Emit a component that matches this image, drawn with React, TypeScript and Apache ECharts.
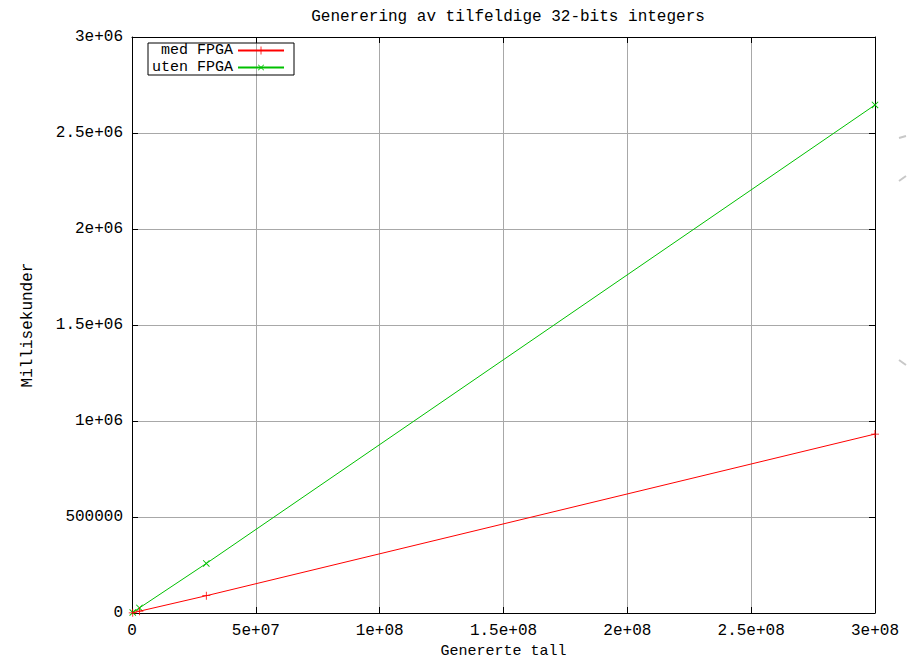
import React, { useEffect, useRef } from "react";
import * as echarts from "echarts";

const titleText = "Generering av tilfeldige 32-bits integers";
const xName = "Genererte tall";
const yName = "Millisekunder";
const seriesNames = ["med FPGA", "uten FPGA"];
const countValues = [300000, 3000000, 30000000, 300000000];
const medFpga = [900, 9300, 90000, 932000];
const utenFpga = [2650, 26500, 258000, 2646000];
const xMin = 0, xMax = 300000000, xStep = 50000000;
const yMin = 0, yMax = 3000000, yStep = 500000;

function gfmt(v: number): string {
  if (v === 0) return "0";
  const e = Math.floor(Math.log10(Math.abs(v)) + 1e-9);
  if (e < 6 && e >= -4) return String(v);
  const m = Math.round((v / Math.pow(10, e)) * 1e5) / 1e5;
  const sign = e < 0 ? "-" : "+";
  const ea = Math.abs(e);
  return `${m}e${sign}${ea < 10 ? "0" + ea : ea}`;
}

const FONT = "Liberation Mono";
const PLUS = "path://M4.5,0H5.5V10H4.5Z M0,4.5H10V5.5H0Z";

export default function App() {
  const ref = useRef<HTMLDivElement>(null);
  useEffect(() => {
    const chart = echarts.init(ref.current!, null, { renderer: "svg" });
    const txt = { fontFamily: FONT, fontSize: 16, color: "#000" };
    const axisCommon = {
      type: "value" as const,
      axisLine: { show: true, onZero: false, lineStyle: { color: "#000", width: 1 } },
      axisTick: { show: true, inside: true, length: 6, lineStyle: { color: "#000" } },
    };
    chart.setOption({
      animation: false,
      backgroundColor: "#fff",
      title: {
        text: titleText,
        left: 503,
        textAlign: "center",
        top: 4,
        textStyle: { ...txt, fontWeight: "normal" },
      },
      grid: { left: 132, right: 41, top: 37, bottom: 46, containLabel: false, outerBoundsMode: "none" },
      legend: {
        orient: "vertical",
        left: 148,
        top: 43,
        align: "right",
        padding: [0, 9, 0, 4],
        itemGap: 2,
        itemWidth: 46,
        itemHeight: 10,
        borderColor: "#000",
        borderWidth: 1,
        borderRadius: 0,
        formatter: (n: string) => (n.length < 9 ? " ".repeat(9 - n.length) + n : n),
        textStyle: { ...txt, fontSize: 15, lineHeight: 15 },
        data: seriesNames,
      },
      xAxis: [
        {
          ...axisCommon,
          position: "bottom",
          min: xMin,
          max: xMax,
          interval: xStep,
          name: xName,
          nameLocation: "middle",
          nameGap: 28,
          nameTextStyle: { ...txt, fontSize: 15 },
          axisLabel: { ...txt, margin: 10, formatter: gfmt },
          splitLine: { show: true, lineStyle: { color: "#a8a8a8", width: 1 } },
        },
        {
          ...axisCommon,
          position: "top",
          min: xMin,
          max: xMax,
          interval: xStep,
          axisLabel: { show: false },
          splitLine: { show: false },
        },
      ],
      yAxis: [
        {
          ...axisCommon,
          position: "left",
          min: yMin,
          max: yMax,
          interval: yStep,
          name: yName,
          nameLocation: "middle",
          nameGap: 96,
          nameTextStyle: txt,
          axisLabel: { ...txt, margin: 9, formatter: gfmt },
          splitLine: { show: true, lineStyle: { color: "#a8a8a8", width: 1 } },
        },
        {
          ...axisCommon,
          position: "right",
          min: yMin,
          max: yMax,
          interval: yStep,
          axisLabel: { show: false },
          splitLine: { show: false },
        },
      ],
      series: [
        {
          name: seriesNames[0],
          type: "line",
          data: countValues.map((x, i) => [x, medFpga[i]]),
          symbol: PLUS,
          symbolSize: 8,
          showAllSymbol: true,
          lineStyle: { color: "#ff0000", width: 1 },
          itemStyle: { color: "#ff0000" },
          z: 3,
        },
        {
          name: seriesNames[1],
          type: "line",
          data: countValues.map((x, i) => [x, utenFpga[i]]),
          symbol: PLUS,
          symbolRotate: 45,
          symbolSize: 9,
          showAllSymbol: true,
          lineStyle: { color: "#00c000", width: 1 },
          itemStyle: { color: "#00c000" },
          z: 2,
        },
      ],
      graphic: [
        { type: "line", shape: { x1: 899, y1: 138, x2: 906, y2: 136 }, style: { stroke: "#c8c8c8", lineWidth: 2 } },
        { type: "line", shape: { x1: 899, y1: 181, x2: 906, y2: 176 }, style: { stroke: "#c8c8c8", lineWidth: 2 } },
        { type: "line", shape: { x1: 899, y1: 360, x2: 906, y2: 365 }, style: { stroke: "#c8c8c8", lineWidth: 2 } },
      ],
    });
    return () => chart.dispose();
  }, []);
  return (
    <div
      ref={ref}
      style={{ position: "absolute", left: 0, top: 0, width: 916, height: 659 }}
    />
  );
}
